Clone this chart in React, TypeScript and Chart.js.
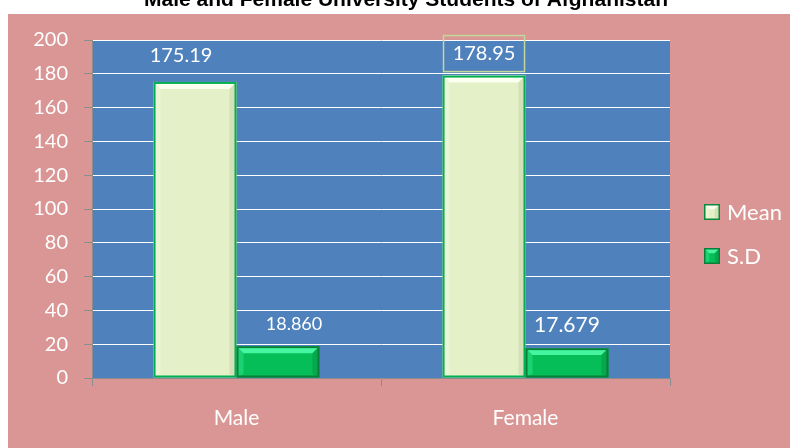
import React, { useEffect, useRef } from "react";
import { Chart, registerables } from "chart.js";

Chart.register(...registerables);

const TITLE = "Male and Female University Students of Afghanistan";
const categories = ["Male", "Female"];
const seriesNames = ["Mean", "S.D"];
const meanValues = [175.19, 178.95];
const sdValues = [18.86, 17.679];
const meanLabels = ["175.19", "178.95"];
const sdLabels = ["18.860", "17.679"];
const yMin = 0;
const yMax = 200;
const yStep = 20;

const FONT = "Lato, 'Open Sans', sans-serif";
const PINK = "#D99694";
const PLOT = "#4F81BD";
const AXIS = "#8C8C8C";

const seriesStyle = [
  { fill: "#E3F0C8", border: "#00B050", light: "#FBFFEF", dark: "#C9D6AE" },
  { fill: "#05BE58", border: "#0A7F3A", light: "#45F5A0", dark: "#079A46" },
];

// label styling: [dx, gapAboveBar, fontSize, boxed]
const labelStyle = [
  [
    [-14, 26, 20, false],
    [0, 22, 20, true],
  ],
  [
    [16, 22, 18, false],
    [0, 23, 21, false],
  ],
];

function bevel(ctx: CanvasRenderingContext2D, l: number, t: number, r: number, b: number, s: number, st: any) {
  const bv = Math.min(7, (r - l) / 3, (b - t) / 3);
  ctx.save();
  ctx.fillStyle = st.fill;
  ctx.fillRect(l, t, r - l, b - t);
  ctx.fillStyle = st.light;
  ctx.beginPath();
  ctx.moveTo(l, t);
  ctx.lineTo(r, t);
  ctx.lineTo(r - bv, t + bv);
  ctx.lineTo(l + bv, t + bv);
  ctx.closePath();
  ctx.fill();
  ctx.fillStyle = st.dark;
  ctx.beginPath();
  ctx.moveTo(r, t);
  ctx.lineTo(r, b);
  ctx.lineTo(r - bv, b - bv * 0.5);
  ctx.lineTo(r - bv, t + bv);
  ctx.closePath();
  ctx.globalAlpha = 0.6;
  ctx.fill();
  ctx.fillStyle = st.light;
  ctx.globalAlpha = 0.35;
  ctx.beginPath();
  ctx.moveTo(l, t);
  ctx.lineTo(l + bv, t + bv);
  ctx.lineTo(l + bv, b - bv * 0.5);
  ctx.lineTo(l, b);
  ctx.closePath();
  ctx.fill();
  ctx.globalAlpha = 1;
  ctx.strokeStyle = st.border;
  ctx.lineWidth = s;
  ctx.strokeRect(l + s / 2, t + s / 2, r - l - s, b - t - s);
  ctx.restore();
}

const backgroundPlugin = {
  id: "bgPlugin",
  beforeDraw(chart: any) {
    const { ctx, width, height, chartArea } = chart;
    ctx.save();
    ctx.fillStyle = "#FFFFFF";
    ctx.fillRect(0, 0, width, height);
    ctx.fillStyle = PINK;
    ctx.fillRect(8, 14, width - 8, height - 14);
    ctx.fillStyle = PLOT;
    ctx.fillRect(chartArea.left, chartArea.top, chartArea.right - chartArea.left, chartArea.bottom - chartArea.top);
    ctx.fillStyle = "#000000";
    ctx.font = `bold 21px 'Liberation Sans', Arial, sans-serif`;
    ctx.textAlign = "center";
    ctx.textBaseline = "alphabetic";
    ctx.fillText(TITLE, 406, 6);
    ctx.restore();
  },
};

const barsPlugin = {
  id: "barsPlugin",
  afterDatasetsDraw(chart: any) {
    const ctx = chart.ctx;
    chart.data.datasets.forEach((ds: any, di: number) => {
      const meta = chart.getDatasetMeta(di);
      meta.data.forEach((bar: any) => {
        const p = bar.getProps(["x", "y", "base", "width"], true);
        bevel(ctx, p.x - p.width / 2, p.y, p.x + p.width / 2, p.base, 2, seriesStyle[di]);
      });
    });
    const labelSets = [meanLabels, sdLabels];
    chart.data.datasets.forEach((ds: any, di: number) => {
      const meta = chart.getDatasetMeta(di);
      meta.data.forEach((bar: any, i: number) => {
        const p = bar.getProps(["x", "y", "width"], true);
        const [dx, gap, size, boxed] = labelStyle[di][i] as any;
        const cx = p.x + dx;
        const cy = p.y - gap;
        ctx.save();
        if (boxed) {
          ctx.strokeStyle = "#C3D69B";
          ctx.lineWidth = 1.5;
          ctx.strokeRect(cx - 40.5, cy - 18, 81, 36);
        }
        ctx.fillStyle = "#FFFFFF";
        ctx.font = `${size}px ${FONT}`;
        ctx.textAlign = "center";
        ctx.textBaseline = "middle";
        ctx.fillText(labelSets[di][i], cx, cy);
        ctx.restore();
      });
    });
  },
};

const legendPlugin = {
  id: "customLegend",
  afterDraw(chart: any) {
    const { ctx, chartArea } = chart;
    const x = chartArea.right + 34;
    const y0 = chartArea.top + 172;
    chart.data.datasets.forEach((ds: any, di: number) => {
      const cy = y0 + di * 44;
      bevel(ctx, x, cy - 8, x + 16, cy + 8, 1.5, { ...seriesStyle[di], border: di === 0 ? "#0A8A3C" : "#0A7F3A" });
      ctx.save();
      ctx.fillStyle = "#FFFFFF";
      ctx.font = `22px ${FONT}`;
      ctx.textAlign = "left";
      ctx.textBaseline = "middle";
      ctx.fillText(ds.label, x + 23, cy + 1);
      ctx.restore();
    });
  },
};

export default function App() {
  const ref = useRef<HTMLCanvasElement | null>(null);
  useEffect(() => {
    if (!ref.current) return;
    const chart = new Chart(ref.current, {
      type: "bar",
      data: {
        labels: categories,
        datasets: [
          { label: seriesNames[0], data: meanValues, backgroundColor: "rgba(0,0,0,0)", borderWidth: 0 },
          { label: seriesNames[1], data: sdValues, backgroundColor: "rgba(0,0,0,0)", borderWidth: 0 },
        ],
      },
      options: {
        animation: false,
        responsive: false,
        maintainAspectRatio: false,
        layout: { padding: { top: 40, right: 120, left: 0, bottom: 0 } },
        datasets: { bar: { categoryPercentage: 0.574, barPercentage: 1.0 } },
        plugins: {
          legend: { display: false },
          title: { display: false },
          tooltip: { enabled: false },
        },
        scales: {
          x: {
            offset: true,
            grid: {
              display: true,
              drawOnChartArea: false,
              offset: true,
              tickLength: 8,
              tickColor: AXIS,
              color: AXIS,
            },
            border: { color: AXIS, width: 1 },
            ticks: { color: "#FFFFFF", font: { family: FONT, size: 21 }, padding: 20 },
            afterFit: (s: any) => {
              s.height = 70;
            },
          },
          y: {
            min: yMin,
            max: yMax,
            ticks: { stepSize: yStep, color: "#FFFFFF", font: { family: FONT, size: 20 }, padding: 16 },
            grid: { color: "#FFFFFF", tickColor: AXIS, tickLength: 8, lineWidth: 1 },
            border: { color: AXIS, width: 1 },
            afterFit: (s: any) => {
              s.width = 92;
            },
          },
        },
      },
      plugins: [backgroundPlugin, barsPlugin, legendPlugin],
    });
    return () => chart.destroy();
  }, []);
  return (
    <div style={{ position: "absolute", left: 0, top: 0, width: 790, height: 448 }}>
      <canvas ref={ref} width={790} height={448} />
    </div>
  );
}
